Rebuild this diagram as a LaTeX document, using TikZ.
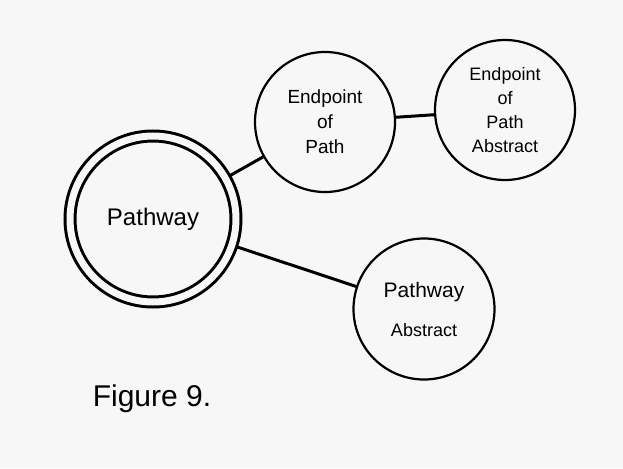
\documentclass[tikz,border=0pt]{standalone}
\usepackage{fontspec}
\setmainfont{Liberation Sans}
\usetikzlibrary{calc}

\begin{document}
\begin{tikzpicture}[x=1pt,y=-1pt,
	bubble/.style={draw,circle,line width=2.2pt,inner sep=0pt,align=center,minimum size=140pt},
	link/.style={line width=3pt}]
	\fill[black!3] (0,0) rectangle (623,468);
	\useasboundingbox (0,0) rectangle (623,468);
	% the circles
	\node[bubble,line width=3pt,double=black!3,double distance=7pt,minimum size=166pt,outer sep=6pt,
		font=\fontsize{24}{28}\selectfont] (PW) at (153,219) {Pathway};
	\node[bubble,font=\fontsize{19}{25}\selectfont] (EP) at (325,122) {Endpoint\\of\\Path};
	\node[bubble,font=\fontsize{18}{24}\selectfont] (EPA) at (505,110) {Endpoint\\of\\Path\\Abstract};
	\node[bubble,minimum size=141pt,font=\fontsize{21}{25}\selectfont] (PWA) at (424,309)
		{Pathway\\[14pt]{\fontsize{18}{21}\selectfont Abstract}};
	% the links
	\draw[link] (PW) -- (EP);
	\draw[link] (EP) -- (EPA);
	\draw[link] (PW) -- (PWA);
	\node[font=\fontsize{30}{36}\selectfont] (FIG) at (152,399) {Figure 9.};
\end{tikzpicture}
\end{document}
